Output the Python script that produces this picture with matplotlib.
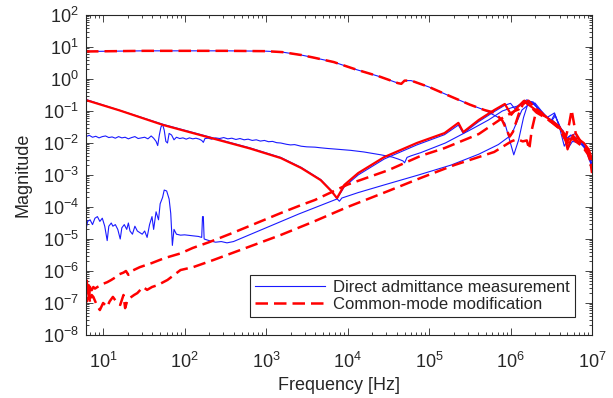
import numpy as np
import matplotlib
matplotlib.use('Agg')
import matplotlib.pyplot as plt
from matplotlib.ticker import LogLocator, NullFormatter

# all values as log10(freq [Hz]) / log10(magnitude)

# blue: direct admittance measurement
b1_f = [0.79, 1.5, 2.5, 3.0, 3.2, 3.43, 3.6, 3.83, 4.1, 4.4, 4.62, 4.66, 4.70, 4.78, 5.0, 5.27, 5.5, 5.68,
        5.85, 5.93, 6.04, 6.10, 6.16, 6.22, 6.26, 6.30, 6.38, 6.45, 6.54, 6.60, 6.66, 6.72, 6.80, 6.90, 6.96, 7.0]
b1_m = [0.86, 0.88, 0.88, 0.87, 0.84, 0.75, 0.66, 0.53, 0.30, 0.07, -0.13, -0.15, -0.05, -0.05, -0.25, -0.55, -0.8, -0.97,
        -1.2, -1.38, -2.37, -1.9, -1.2, -0.72, -0.8, -0.75, -1.0, -1.2, -1.06, -1.5, -2.1, -1.8, -1.7, -2.1, -2.3, -2.84]

b2_f = [0.79, 0.83, 0.87, 0.91, 0.95, 0.99, 1.03, 1.07, 1.11, 1.15, 1.19, 1.23, 1.27, 1.31, 1.35, 1.39, 1.43, 1.47,
        1.51, 1.55, 1.59, 1.62, 1.65, 1.67, 1.69, 1.71, 1.73, 1.75, 1.77, 1.79, 1.81, 1.84, 1.87, 1.90, 1.94, 1.98,
        2.02, 2.06, 2.10, 2.14, 2.18, 2.21, 2.23, 2.25, 2.29, 2.33, 2.38, 2.43, 2.48, 2.53, 2.58, 2.63, 2.68, 2.73,
        2.78, 2.83, 2.88, 2.93, 2.98, 3.03, 3.08, 3.13, 3.18, 3.25, 3.30, 3.35, 3.43, 3.50, 3.60, 3.67, 3.75, 3.85,
        4.04, 4.20, 4.41, 4.55, 4.62, 4.68, 4.70, 4.73, 4.78, 4.90, 5.20, 5.50, 5.73, 5.90, 6.01, 6.08, 6.14, 6.20,
        6.24, 6.28, 6.34, 6.42, 6.50, 6.55, 6.60, 6.65, 6.70, 6.75, 6.82, 6.90, 6.95, 7.0]
b2_m = [-1.80, -1.76, -1.82, -1.79, -1.84, -1.80, -1.78, -1.83, -1.81, -1.85, -1.80, -1.84, -1.82, -1.87, -1.83, -1.80, -1.86, -1.84,
        -1.82, -1.87, -1.78, -1.85, -1.95, -2.08, -1.75, -1.5, -1.42, -1.6, -1.95, -2.0, -1.7, -1.75, -1.9, -1.82, -1.86, -1.84,
        -1.88, -1.84, -1.87, -1.85, -1.88, -1.92, -1.98, -1.86, -1.85, -1.88, -1.84, -1.86, -1.83, -1.87, -1.85, -1.89, -1.86, -1.90,
        -1.88, -1.92, -1.90, -1.94, -1.92, -1.96, -1.95, -1.99, -2.0, -2.04, -2.06, -2.05, -2.1, -2.12, -2.13, -2.15, -2.17, -2.19,
        -2.23, -2.28, -2.37, -2.44, -2.5, -2.56, -2.62, -2.45, -2.4, -2.3, -2.0, -1.6, -1.28, -1.0, -0.9, -0.85, -0.75, -0.65,
        -0.7, -0.72, -0.95, -1.15, -1.32, -1.15, -1.45, -1.7, -1.9, -1.85, -1.8, -2.05, -2.4, -2.75]

b3_f = [0.79, 0.81, 0.84, 0.87, 0.90, 0.93, 0.96, 0.99, 1.02, 1.05, 1.07, 1.10, 1.12, 1.15, 1.18, 1.21, 1.23, 1.26,
        1.29, 1.31, 1.33, 1.36, 1.39, 1.42, 1.45, 1.48, 1.51, 1.54, 1.57, 1.60, 1.62, 1.65, 1.68, 1.70, 1.73, 1.75,
        1.78, 1.81, 1.83, 1.85, 1.87, 1.90, 1.95, 2.0, 2.1, 2.17, 2.21, 2.22, 2.23, 2.24, 2.30, 2.38, 2.45, 2.52,
        2.60, 3.0, 3.4, 3.87, 3.90, 3.96, 4.13, 4.45, 4.85, 5.19, 5.36, 5.42, 5.61, 5.80, 5.93, 6.0, 6.05, 6.12,
        6.20, 6.27, 6.35, 6.45, 6.52, 6.58, 6.64, 6.69, 6.74, 6.80, 6.88, 6.95, 7.0]
b3_m = [-4.7, -4.45, -4.4, -4.55, -4.35, -4.3, -4.45, -4.35, -4.6, -5.05, -4.6, -4.5, -4.6, -4.55, -4.7, -5.0, -4.65, -4.55,
        -4.7, -4.5, -4.75, -4.85, -4.6, -4.75, -4.8, -4.85, -4.75, -4.95, -4.55, -4.3, -4.7, -4.15, -4.4, -3.9, -3.7, -3.47,
        -3.5, -3.75, -4.2, -5.2, -4.7, -4.85, -4.88, -4.87, -4.9, -4.92, -4.95, -4.3, -4.3, -5.0, -5.05, -5.1, -5.08, -5.12,
        -5.08, -4.65, -4.22, -3.75, -3.62, -3.37, -3.0, -2.5, -2.06, -1.74, -1.44, -1.7, -1.33, -1.02, -0.82, -0.76, -0.92, -0.82,
        -0.7, -0.76, -0.95, -1.2, -1.3, -1.45, -1.6, -1.85, -1.75, -1.9, -2.05, -2.3, -2.65]

b4_f = [0.79, 1.74, 2.32, 2.8, 3.18, 3.43, 3.67, 3.80, 3.87, 3.90, 3.93, 4.13, 4.45, 4.87, 5.27, 5.61, 5.85, 6.01,
        6.14, 6.26, 6.30, 6.40, 6.50, 6.54, 6.60, 6.66, 6.71, 6.76, 6.85, 6.93, 7.0]
b4_m = [-0.64, -1.42, -1.82, -2.15, -2.45, -2.76, -3.14, -3.48, -3.74, -3.82, -3.72, -3.55, -3.31, -3.0, -2.69, -2.35, -2.05, -1.75,
        -0.97, -0.72, -0.8, -1.1, -1.3, -1.1, -1.45, -1.8, -2.15, -1.95, -2.0, -2.2, -2.7]

# red: common-mode modification
r1_f = [0.79, 1.5, 2.5, 3.0, 3.2, 3.43, 3.6, 3.83, 4.1, 4.4, 4.62, 4.66, 4.70, 4.78, 5.0, 5.27, 5.5, 5.68,
        5.80, 5.90, 5.99, 6.03, 6.10, 6.17, 6.24, 6.32, 6.42, 6.50, 6.58, 6.63, 6.68, 6.72, 6.75, 6.80, 6.86, 6.92, 6.97, 7.0]
r1_m = [0.86, 0.88, 0.88, 0.87, 0.84, 0.75, 0.66, 0.53, 0.30, 0.07, -0.13, -0.15, -0.05, -0.05, -0.25, -0.55, -0.8, -0.97,
        -1.05, -1.3, -1.8, -1.65, -1.1, -0.68, -0.85, -1.05, -1.2, -1.34, -1.5, -1.6, -1.8, -1.4, -0.97, -1.7, -1.95, -2.1, -2.4, -2.94]

r2_f = [0.79, 1.2, 1.74, 2.32, 2.8, 3.18, 3.43, 3.67, 3.80, 3.87, 3.92, 3.96, 4.13, 4.45, 4.85, 5.19, 5.36, 5.42,
        5.61, 5.80, 5.93, 6.01, 6.08, 6.16, 6.22, 6.30, 6.42, 6.52, 6.60, 6.66, 6.70, 6.74, 6.82, 6.90, 6.96, 7.0]
r2_m = [-0.66, -0.98, -1.44, -1.84, -2.17, -2.47, -2.78, -3.16, -3.5, -3.72, -3.5, -3.31, -2.94, -2.44, -2.0, -1.69, -1.37, -1.66,
        -1.28, -0.97, -0.78, -1.12, -0.9, -0.69, -0.8, -0.95, -1.15, -1.35, -1.5, -1.75, -2.2, -1.9, -1.85, -2.0, -2.2, -2.5]

r3_f = [0.79, 0.80, 0.81, 0.82, 0.83, 0.84, 0.86, 0.88, 0.90, 0.93, 0.97, 1.0, 1.05, 1.1, 1.15, 1.2, 1.25, 1.28,
        1.31, 1.35, 1.45, 1.6, 1.75, 1.95, 2.1, 2.3, 2.6, 3.18, 3.43, 3.6, 4.0, 4.5, 4.9, 5.19, 5.61, 5.9,
        6.05, 6.10, 6.17, 6.22, 6.30, 6.40, 6.50, 6.58, 6.64, 6.70, 6.75, 6.80, 6.88, 6.95, 7.0]
r3_m = [-6.5, -6.3, -6.7, -6.45, -6.8, -6.4, -6.6, -6.5, -6.55, -6.5, -6.45, -6.4, -6.35, -6.28, -6.2, -6.1, -6.05, -6.0,
        -6.12, -6.0, -5.88, -5.75, -5.6, -5.45, -5.28, -5.1, -4.8, -4.19, -3.94, -3.78, -3.3, -2.85, -2.4, -2.16, -1.72, -1.22,
        -1.0, -0.95, -0.75, -0.68, -0.9, -1.12, -1.3, -1.45, -1.65, -1.95, -1.7, -1.9, -2.05, -2.3, -2.6]

r4_f = [0.79, 0.80, 0.82, 0.84, 0.86, 0.88, 0.92, 0.96, 1.0, 1.05, 1.08, 1.12, 1.16, 1.21, 1.25, 1.27, 1.30, 1.33,
        1.38, 1.42, 1.49, 1.54, 1.60, 1.67, 1.79, 1.95, 2.11, 2.35, 3.18, 3.59, 4.0, 4.5, 4.90, 5.31, 5.80, 6.01,
        6.08, 6.15, 6.20, 6.23, 6.26, 6.32, 6.38, 6.45, 6.52, 6.60, 6.66, 6.70, 6.74, 6.80, 6.88, 6.95, 7.0]
r4_m = [-6.7, -6.95, -6.6, -7.0, -6.75, -6.81, -7.05, -7.22, -7.0, -7.12, -6.95, -6.81, -6.95, -7.06, -6.75, -7.16, -6.9, -6.84,
        -6.75, -6.69, -6.5, -6.59, -6.5, -6.44, -6.28, -5.97, -5.875, -5.66, -4.875, -4.45, -4.0, -3.5, -3.09, -2.69, -2.28, -1.95,
        -1.88, -1.95, -1.92, -2.2, -1.6, -0.95, -1.05, -1.25, -1.38, -1.55, -1.85, -2.0, -1.8, -1.95, -2.1, -2.35, -2.7]

x_ticks = [1e1, 1e2, 1e3, 1e4, 1e5, 1e6, 1e7]
y_ticks = [1e-8, 1e-7, 1e-6, 1e-5, 1e-4, 1e-3, 1e-2, 1e-1, 1e0, 1e1, 1e2]

plt.rcParams['font.family'] = ['Liberation Sans', 'DejaVu Sans']
dark = '#262626'

fig = plt.figure(figsize=(6.13, 3.98), dpi=100)
ax = fig.add_axes([86/613, 63/398, 506/613, 320/398])

blue = '#1a1aff'
red = '#ff0000'
dash = (0, (5, 2.4))

def p(v):
    return np.power(10.0, v)

ax.plot(p(b1_f), p(b1_m), color=blue, lw=0.8, label='Direct admittance measurement')
ax.plot(p(b2_f), p(b2_m), color=blue, lw=0.8)
ax.plot(p(b3_f), p(b3_m), color=blue, lw=0.8)
ax.plot(p(b4_f), p(b4_m), color=blue, lw=0.8)

ax.plot(p(r1_f), p(r1_m), color=red, lw=1.8, linestyle=dash, label='Common-mode modification')
ax.plot(p(r2_f), p(r2_m), color=red, lw=1.6)
ax.plot(p(r3_f), p(r3_m), color=red, lw=1.8, linestyle=dash)
ax.plot(p(r4_f), p(r4_m), color=red, lw=1.8, linestyle=dash)

ax.set_xscale('log')
ax.set_yscale('log')
ax.set_xlim(p(0.79), 1e7)
ax.set_ylim(1e-8, 1e2)
ax.set_xticks(x_ticks)
ax.set_yticks(y_ticks)
ax.xaxis.set_minor_locator(LogLocator(base=10, subs=np.arange(2, 10)))
ax.yaxis.set_minor_locator(LogLocator(base=10, subs=np.arange(2, 10), numticks=20))
ax.xaxis.set_minor_formatter(NullFormatter())
ax.yaxis.set_minor_formatter(NullFormatter())

ax.tick_params(which='both', direction='in', top=True, right=True, colors=dark, width=0.6)
ax.tick_params(which='major', length=5, labelsize=13)
ax.tick_params(axis='y', which='major', pad=5)
ax.tick_params(axis='x', which='major', pad=12)
ax.tick_params(which='minor', length=2.5)
for s in ax.spines.values():
    s.set_color(dark)
    s.set_linewidth(0.8)

ax.set_xlabel('Frequency [Hz]', fontsize=13, color=dark, labelpad=4)
ax.set_ylabel('Magnitude', fontsize=13, color=dark, labelpad=8)

leg = ax.legend(loc='lower right', bbox_to_anchor=(0.966, 0.056), borderaxespad=0,
                fontsize=12, handlelength=4.2, handletextpad=0.5, labelspacing=0.15,
                borderpad=0.3, fancybox=False, framealpha=1, edgecolor=dark)
leg.get_frame().set_linewidth(0.8)
for t in leg.get_texts():
    t.set_color(dark)

fig.savefig('out.png', dpi=100)
